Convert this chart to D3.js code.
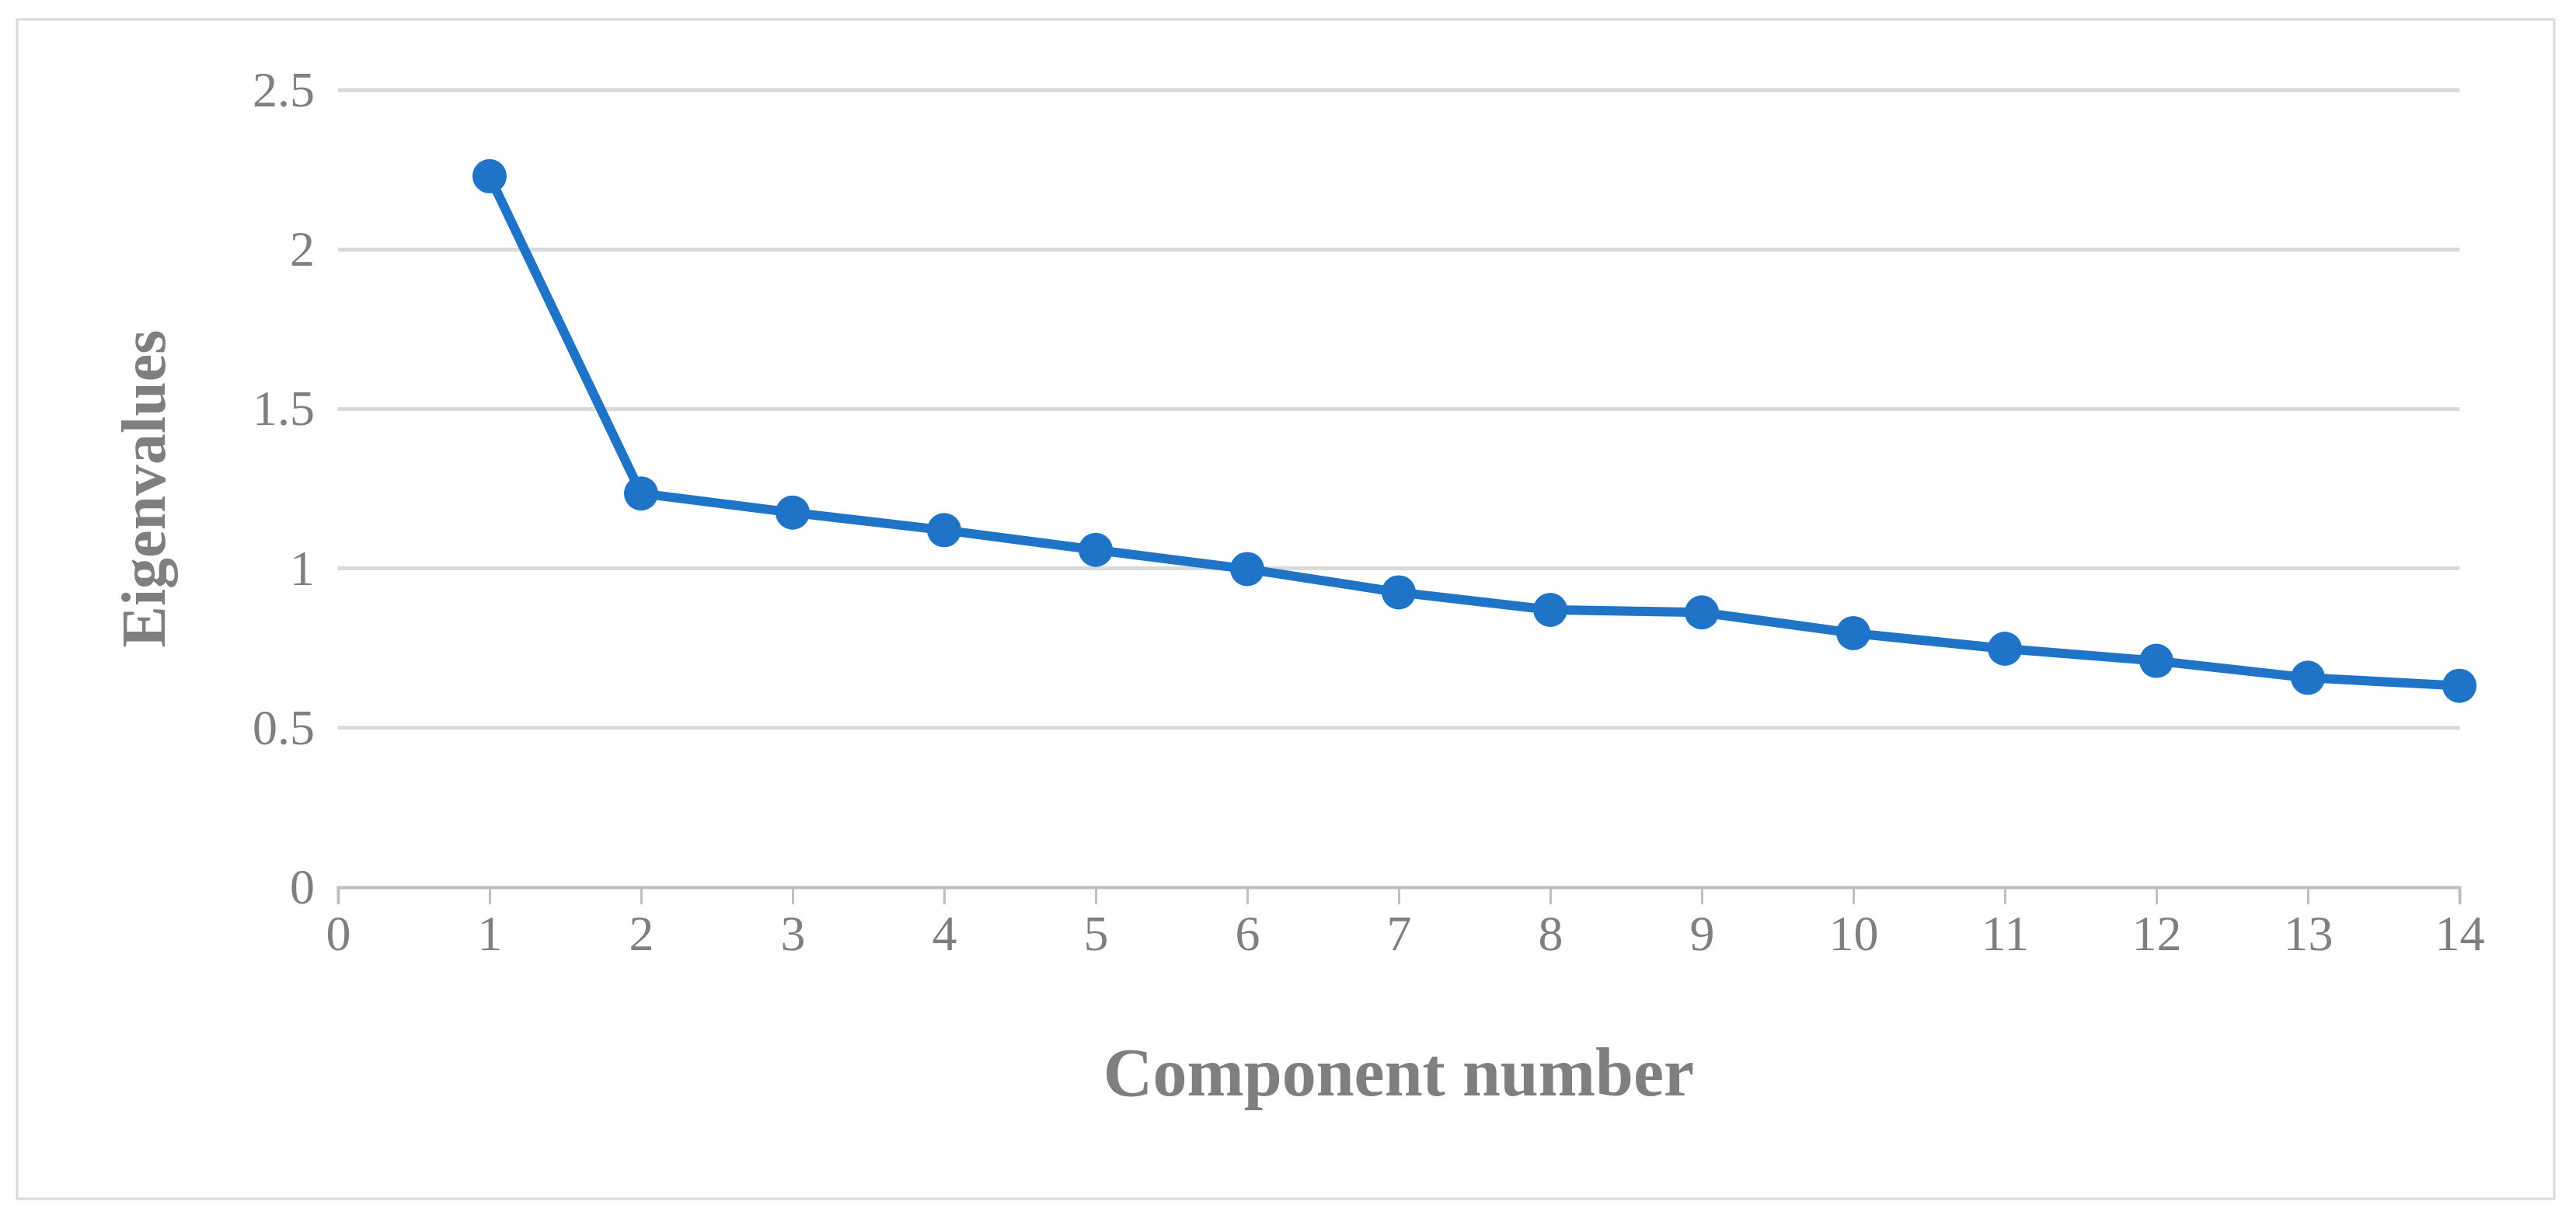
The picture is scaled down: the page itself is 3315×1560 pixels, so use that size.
<!DOCTYPE html>
<html><head><meta charset="utf-8">
<script src="https://cdn.jsdelivr.net/npm/d3@7"></script>
<style>body{margin:0;background:#fff}</style>
</head><body>
<script>
var components = [1,2,3,4,5,6,7,8,9,10,11,12,13,14];
var eigenvalues = [2.23,1.235,1.175,1.12,1.058,0.998,0.925,0.87,0.862,0.797,0.748,0.71,0.657,0.632];
var xTicks = d3.range(0,15);
var yTicks = [0,0.5,1,1.5,2,2.5];

var W = 3315, H = 1560;
var svg = d3.select('body').append('svg').attr('width',W).attr('height',H);
var font = '"Liberation Serif","DejaVu Serif",serif';
var grey = '#7f7f7f';

svg.append('rect').attr('x',22).attr('y',25).attr('width',3265).attr('height',1518)
	.attr('fill','none').attr('stroke','#d9d9d9').attr('stroke-width',3);

var x = d3.scaleLinear().domain([0,14]).range([435,3165]);
var y = d3.scaleLinear().domain([0,2.5]).range([1142,116]);

// grid
svg.append('g').selectAll('line').data(yTicks.slice(1)).enter().append('line')
	.attr('x1',x(0)).attr('x2',x(14)).attr('y1',y).attr('y2',y)
	.attr('stroke','#d9d9d9').attr('stroke-width',5);

var xAxis = svg.append('g').attr('transform','translate(0,'+y(0)+')')
	.call(d3.axisBottom(x).tickValues(xTicks).tickSize(22).tickPadding(14).tickFormat(d3.format('d')));
xAxis.select('.domain').attr('stroke','#bfbfbf').attr('stroke-width',4);
xAxis.selectAll('.tick line').attr('stroke','#bfbfbf').attr('stroke-width',3).attr('y1',0);
xAxis.selectAll('text').attr('fill',grey).style('font-family',font).style('font-size','64px');

var yAxis = svg.append('g').attr('transform','translate('+x(0)+',0)')
	.call(d3.axisLeft(y).tickValues(yTicks).tickSize(0).tickPadding(30).tickFormat(function(d){return String(d);}));
yAxis.select('.domain').remove();
yAxis.selectAll('text').attr('fill',grey).style('font-family',font).style('font-size','64px');

var line = d3.line().x(function(d,i){return x(components[i]);}).y(function(d){return y(d);});
svg.append('path').datum(eigenvalues).attr('d',line).attr('fill','none')
	.attr('stroke','#1f74c8').attr('stroke-width',12).attr('stroke-linejoin','round');
svg.append('g').selectAll('circle').data(eigenvalues).enter().append('circle')
	.attr('cx',function(d,i){return x(components[i]);}).attr('cy',y).attr('r',22)
	.attr('fill','#1f74c8');

svg.append('text').attr('x',(x(0)+x(14))/2).attr('y',1410).attr('text-anchor','middle')
	.attr('fill',grey).style('font-family',font).style('font-size','88px').style('font-weight','bold')
	.text('Component number');
svg.append('text').attr('transform','translate(212,'+y(1.25)+') rotate(-90)').attr('text-anchor','middle')
	.attr('fill',grey).style('font-family',font).style('font-size','80px').style('font-weight','bold')
	.text('Eigenvalues');
</script>
</body></html>
